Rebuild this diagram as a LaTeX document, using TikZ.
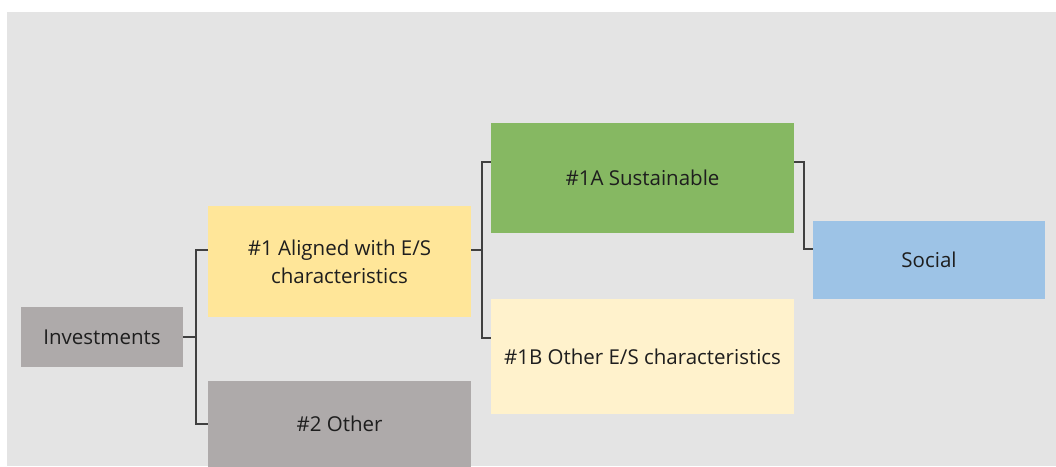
\documentclass[tikz,border=0pt]{standalone}
\usepackage{fontspec}
\setmainfont{Open Sans}
\definecolor{bggray}{HTML}{E4E4E4}
\definecolor{boxgray}{HTML}{AEAAAA}
\definecolor{gold}{HTML}{FFE699}
\definecolor{lightgold}{HTML}{FFF2CC}
\definecolor{green}{HTML}{86B862}
\definecolor{blue}{HTML}{9DC3E6}
\definecolor{conncol}{HTML}{404040}
\definecolor{txt}{HTML}{1E1E1E}
\begin{document}
\begin{tikzpicture}[x=1pt,y=-1pt,
  box/.style={rectangle, draw=none, inner sep=0pt, align=center, text=txt,
    font=\fontsize{20.5}{28}\selectfont},
  conn/.style={draw=conncol, line width=1.5pt}]
\useasboundingbox (0,0) rectangle (1056,466);
\fill[bggray] (7,12) rectangle (1056,466);
\begin{scope}
\clip (0,0) rectangle (1056,466);
\node[box, fill=boxgray, minimum width=162pt, minimum height=60pt] (inv) at (102,337) {Investments};
\node[box, fill=gold, minimum width=263pt, minimum height=111pt] (a1) at (339.5,261.5) {\#1 Aligned with E/S\\characteristics};
\node[box, fill=boxgray, minimum width=263pt, minimum height=86pt] (o2) at (339.5,424) {\#2 Other};
\node[box, fill=green, minimum width=303pt, minimum height=110pt] (s1a) at (642.5,178) {\#1A Sustainable};
\node[box, fill=lightgold, minimum width=303pt, minimum height=115pt] (s1b) at (642.5,356.5) {\#1B Other E/S characteristics};
\node[box, fill=blue, minimum width=232pt, minimum height=78pt] (soc) at (929,260) {Social};
\end{scope}
\coordinate (b1) at (196,337);
\coordinate (b2) at (482,250);
\coordinate (b3) at (804,205);
\draw[conn] (inv.east) -- (b1);
\draw[conn] ([yshift=11.5pt]a1.west) -| (b1) |- (o2.west);
\draw[conn] ([yshift=11.5pt]a1.east) -- (b2);
\draw[conn] ([yshift=16pt]s1a.west) -| (b2) |- ([yshift=18.5pt]s1b.west);
\draw[conn] ([yshift=16pt]s1a.east) -| (b3) |- ([yshift=11pt]soc.west);
\end{tikzpicture}
\end{document}
